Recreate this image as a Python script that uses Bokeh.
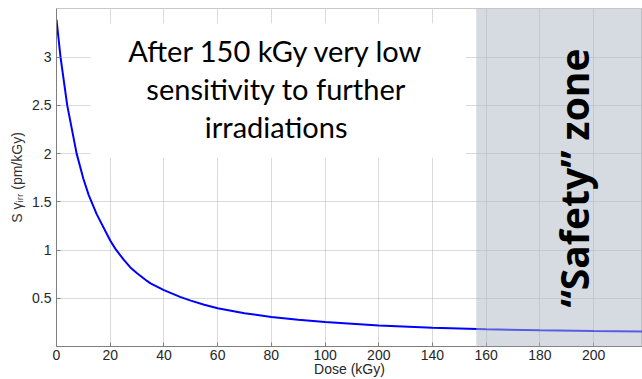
import math
from bokeh.plotting import figure
from bokeh.models import Range1d, FixedTicker, BoxAnnotation, Label
from bokeh.embed import file_html
from bokeh.resources import INLINE

# ---- data ----
dose = [0, 1.5, 4, 7.5, 10, 12, 15, 20, 22, 25, 27.5, 30, 33.7, 35, 40, 46, 50, 55,
        60, 70, 80, 90, 100, 120, 140, 160, 180, 200, 218]
sens = [3.39, 3.0, 2.5, 2.0, 1.74, 1.57, 1.37, 1.10, 1.01, 0.90, 0.82, 0.76, 0.68,
        0.655, 0.585, 0.515, 0.476, 0.433, 0.397, 0.345, 0.307, 0.278, 0.255,
        0.218, 0.194, 0.179, 0.168, 0.160, 0.155]

x_ticks = [0, 20, 40, 60, 80, 100, 120, 140, 160, 180, 200]
x_tick_labels = ["0", "20", "40", "60", "80", "100", "200", "140", "160", "180", "200"]
y_ticks = [0.5, 1, 1.5, 2, 2.5, 3]
y_tick_labels = ["0.5", "1", "1.5", "2", "2.5", "3"]
safety_start = 156.3
x_max = 218.2
y_max = 3.505

note_lines = ["After 150 kGy very low", "sensitivity to further", "irradiations"]
safety_text = "\u201cSafety\u201d zone"
x_label = "Dose (kGy)"
y_label = "S \u03b3\u1d62\u1d63\u1d63 (pm/kGy)"

TICK_FONT = "Liberation Sans"
TICK_COLOR = "#262626"

p = figure(width=642, height=379, x_range=Range1d(0, x_max), y_range=Range1d(0, y_max),
           output_backend="svg", toolbar_location=None,
           min_border_left=56, min_border_right=0, min_border_top=8, min_border_bottom=32)
p.outline_line_color = "#c8c8c8"
p.background_fill_color = "white"
p.border_fill_color = "white"

# axes
p.xaxis.ticker = FixedTicker(ticks=x_ticks)
p.xaxis.major_label_overrides = dict(zip(x_ticks, x_tick_labels))
p.yaxis.ticker = FixedTicker(ticks=y_ticks)
p.yaxis.major_label_overrides = dict(zip(y_ticks, y_tick_labels))
for ax in (p.xaxis[0], p.yaxis[0]):
    ax.major_label_text_font = TICK_FONT
    ax.major_label_text_font_size = "14px"
    ax.major_label_text_color = TICK_COLOR
    ax.major_tick_in = 4
    ax.major_tick_out = 0
    ax.minor_tick_line_color = None
    ax.axis_line_color = "#7f7f7f"
    ax.major_tick_line_color = "#7f7f7f"
    ax.axis_label_text_font = TICK_FONT
    ax.axis_label_text_font_style = "normal"
    ax.axis_label_text_color = TICK_COLOR

p.xaxis.axis_label = x_label
p.xaxis.axis_label_text_font_size = "14px"
p.xaxis.major_label_standoff = 3
p.xaxis.axis_label_standoff = -2

p.yaxis.axis_label = y_label
p.yaxis.axis_label_text_font_size = "14px"
p.yaxis.axis_label_text_color = "#333333"
p.yaxis.major_label_standoff = 5
p.yaxis.axis_label_standoff = 4

# grid
for g in (p.xgrid[0], p.ygrid[0]):
    g.grid_line_color = "#b4b4b4"
    g.grid_line_dash = "1 1"
    g.grid_line_width = 1
p.xgrid.ticker = FixedTicker(ticks=x_ticks)
p.ygrid.ticker = FixedTicker(ticks=y_ticks)

# curve
p.line(dose, sens, line_color="#0000ff", line_width=2)

# white backing box behind the note
p.add_layout(BoxAnnotation(left=12.7, right=152.3, bottom=1.957, top=3.35,
                           fill_color="white", fill_alpha=1.0, line_color=None))

# safety zone shading
p.add_layout(BoxAnnotation(left=safety_start, fill_color="#adb8c6", fill_alpha=0.5,
                           line_color=None))

# note text
for line_txt, yb in zip(note_lines, [3.07, 2.677, 2.285]):
    p.add_layout(Label(x=81.8, y=yb, text=line_txt, text_align="center",
                       text_baseline="alphabetic", text_font="Lato",
                       text_font_size="29px", text_color="#000000"))

# safety text (rotated)
p.add_layout(Label(x=192.5, y=1.747, text=safety_text, angle=math.pi / 2,
                   text_align="center", text_baseline="alphabetic",
                   text_font="Open Sans", text_font_style="bold",
                   text_font_size="39px", text_color="#000000"))

open("out.html", "w").write(file_html(p, INLINE))
